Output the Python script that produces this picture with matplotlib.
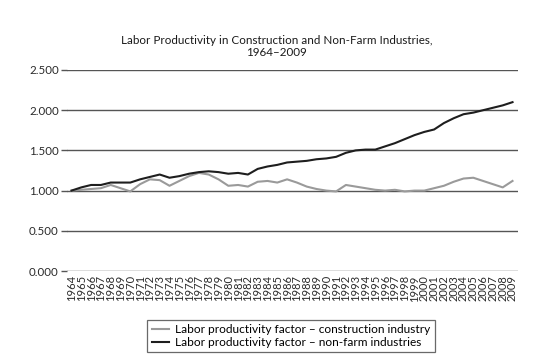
import matplotlib
matplotlib.use("Agg")
import matplotlib.pyplot as plt
from matplotlib.ticker import FormatStrFormatter

plt.rcParams['font.family'] = ['Lato', 'DejaVu Sans']

years = list(range(1964, 2010))
construction = [1.00, 1.01, 1.02, 1.03, 1.07, 1.03, 0.99, 1.08, 1.14, 1.13,
                1.06, 1.12, 1.18, 1.22, 1.20, 1.14, 1.06, 1.07, 1.05, 1.11,
                1.12, 1.10, 1.14, 1.10, 1.05, 1.02, 1.00, 0.99, 1.07, 1.05,
                1.03, 1.01, 1.00, 1.01, 0.99, 1.00, 1.00, 1.03, 1.06, 1.11,
                1.15, 1.16, 1.12, 1.08, 1.04, 1.12]
nonfarm = [1.00, 1.04, 1.07, 1.07, 1.10, 1.10, 1.10, 1.14, 1.17, 1.20,
           1.16, 1.18, 1.21, 1.23, 1.24, 1.23, 1.21, 1.22, 1.20, 1.27,
           1.30, 1.32, 1.35, 1.36, 1.37, 1.39, 1.40, 1.42, 1.47, 1.50,
           1.51, 1.51, 1.55, 1.59, 1.64, 1.69, 1.73, 1.76, 1.84, 1.90,
           1.95, 1.97, 2.00, 2.03, 2.06, 2.10]
yticks = [0.0, 0.5, 1.0, 1.5, 2.0, 2.5]
title = "Labor Productivity in Construction and Non-Farm Industries,\n1964\u20132009"
labels = ["Labor productivity factor \u2013 construction industry",
          "Labor productivity factor \u2013 non-farm industries"]

W, H = 553, 362
fig = plt.figure(figsize=(W/100, H/100), dpi=100)
ax = fig.add_axes([67/W, (H-271)/H, (518-67)/W, (271-70)/H])

ax.plot(years, construction, color='#9a9a9a', lw=1.5, label=labels[0])
ax.plot(years, nonfarm, color='#1e1e1e', lw=1.5, label=labels[1])

ax.set_xlim(1963.54, 2009.56)
ax.set_ylim(0, 2.5)
ax.set_yticks(yticks)
ax.yaxis.set_major_formatter(FormatStrFormatter('%.3f'))
ax.set_xticks(years)
ax.set_xticklabels([str(y) for y in years], rotation=90, fontsize=8, color='#2a2a2a')
ax.tick_params(axis='x', length=0, pad=3)
ax.tick_params(axis='y', length=4, width=1, color='#555555', labelsize=8.3, pad=2, labelcolor='#2a2a2a')
ax.grid(axis='y', color='#555555', lw=1)
ax.set_axisbelow(True)
for s in ax.spines.values():
    s.set_visible(False)

fig.text(0.5, (H-35)/H, title, ha='center', va='top', fontsize=8.4, color='#1a1a1a',
         linespacing=1.1)

leg = ax.legend(loc='upper center', bbox_to_anchor=(0.497, -0.215), ncol=1, fontsize=8.6,
                frameon=True, fancybox=False, edgecolor='#444444', handlelength=1.5,
                handletextpad=0.5, borderpad=0.35, labelspacing=0.15)
leg.get_frame().set_linewidth(0.9)

fig.savefig('out.png', dpi=100, facecolor='white')
